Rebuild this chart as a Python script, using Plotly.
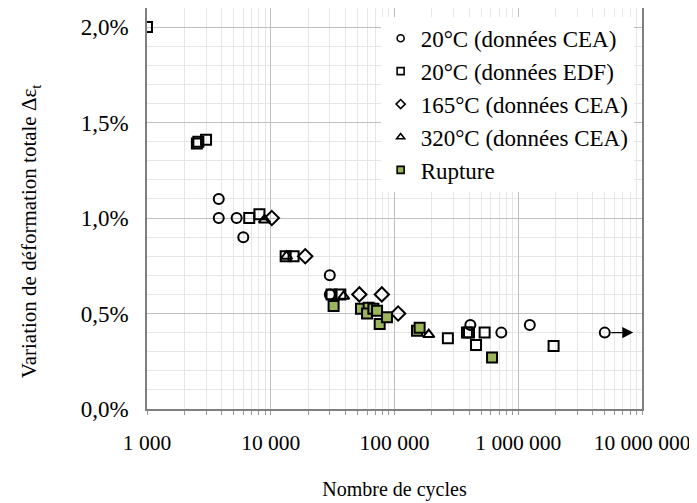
import math
import plotly.graph_objects as go

# ---- data (Nombre de cycles, variation de déformation totale en %) ----
cea20_n = [3800, 3800, 5300, 6000, 30000, 30000, 410000, 730000, 1240000, 5000000]
cea20_e = [1.10, 1.00, 1.00, 0.90, 0.70, 0.60, 0.44, 0.40, 0.44, 0.40]

edf20_n = [1000, 2530, 2600, 3000, 6700, 8100, 13200, 15300, 31000, 36500,
           270000, 385000, 400000, 456000, 535000, 1930000]
edf20_e = [2.00, 1.39, 1.40, 1.41, 1.00, 1.02, 0.80, 0.80, 0.60, 0.60,
           0.37, 0.40, 0.40, 0.335, 0.40, 0.33]

cea165_n = [10200, 19000, 52000, 79000, 107000]
cea165_e = [1.00, 0.80, 0.60, 0.60, 0.50]

cea320_n = [8900, 13400, 38800, 189000]
cea320_e = [0.99, 0.80, 0.59, 0.39]

rupt_n = [32200, 53600, 61800, 60000, 67500, 72300, 75900, 86900, 152000, 159600, 614000]
rupt_e = [0.54, 0.525, 0.53, 0.50, 0.525, 0.515, 0.445, 0.48, 0.41, 0.425, 0.27]

# run-out (test not broken): arrow from the last 20°C CEA point
runout_start = (5000000, 0.40)
runout_end = (8500000, 0.40)

x_ticks = [1000, 10000, 100000, 1000000, 10000000]
x_labels = ["1 000", "10 000", "100 000", "1 000 000", "10 000 000"]

names = ["20°C (données CEA)", "20°C (données EDF)", "165°C (données CEA)",
         "320°C (données CEA)", "Rupture"]

SERIF = "Liberation Serif, Times New Roman, serif"
GREEN = "#9bb55a"

series = [
    (cea20_n, cea20_e, names[0], "circle-open", 10, "black"),
    (edf20_n, edf20_e, names[1], "square-open", 10, "black"),
    (cea165_n, cea165_e, names[2], "diamond-open", 11, "black"),
    (cea320_n, cea320_e, names[3], "triangle-up-open", 10, "black"),
    (rupt_n, rupt_e, names[4], "square", 10, GREEN),
]

fig = go.Figure()

for xs, ys, name, sym, size, col in series:
    fig.add_trace(go.Scatter(
        x=xs, y=ys, mode="markers", name=name, legendgroup=name, showlegend=False,
        marker=dict(symbol=sym, size=size, color=col,
                    line=dict(width=2, color="black")),
    ))

# legend-only entries with the small symbols of the reference legend
for xs, ys, name, sym, size, col in series:
    fig.add_trace(go.Scatter(
        x=[None], y=[None], mode="markers", name=name, legendgroup=name,
        showlegend=True,
        marker=dict(symbol=sym, size=7, color=col,
                    line=dict(width=1.6, color="black")),
    ))

fig.add_annotation(
    x=math.log10(runout_end[0]), y=runout_end[1],
    ax=math.log10(runout_start[0]) + 0.04, ay=runout_start[1],
    xref="x", yref="y", axref="x", ayref="y",
    showarrow=True, arrowhead=2, arrowsize=1.7, arrowwidth=1.3,
    arrowcolor="black", text="",
)

# y-axis title (placed like the reference, slightly below the plot centre)
fig.add_annotation(
    text="Variation de déformation totale Δε<sub>t</sub>",
    xref="paper", yref="paper", x=-0.236, y=0.444,
    xanchor="center", yanchor="middle", textangle=-90, showarrow=False,
    font=dict(family=SERIF, size=21, color="black"),
)

fig.update_layout(
    width=689, height=495,
    margin=dict(l=139, r=55, t=0, b=94),
    paper_bgcolor="white", plot_bgcolor="white",
    separators=", ",
    font=dict(family=SERIF, size=23, color="black"),
    showlegend=True,
    legend=dict(
        x=0.472, y=0.978, xanchor="left", yanchor="top",
        bgcolor="white", borderwidth=0,
        font=dict(family=SERIF, size=23, color="black"),
        traceorder="grouped", tracegroupgap=0,
        itemwidth=30, itemsizing="trace",
    ),
    xaxis=dict(
        type="log", range=[3, 7], automargin=False,
        tickvals=x_ticks, ticktext=x_labels,
        tickfont=dict(family=SERIF, size=21.5),
        showgrid=True, gridcolor="#bfbfbf", gridwidth=1,
        minor=dict(dtick="D1", showgrid=True, gridcolor="#e6e6e6", gridwidth=1,
                   ticks="outside", ticklen=4, tickcolor="#999999"),
        ticks="", ticklabelstandoff=13,
        showline=True, linecolor="#7f7f7f", linewidth=1.5, mirror=True,
        zeroline=False,
        title=dict(text="Nombre de cycles", standoff=28,
                   font=dict(family=SERIF, size=20)),
    ),
    yaxis=dict(
        range=[0, 2.1], tick0=0, dtick=0.5, automargin=False,
        tickformat=".1f", ticksuffix="%",
        tickfont=dict(family=SERIF, size=23),
        showgrid=True, gridcolor="#bfbfbf", gridwidth=1,
        minor=dict(dtick=0.1, showgrid=True, gridcolor="#e6e6e6", gridwidth=1),
        ticks="", ticklabelstandoff=12,
        showline=True, linecolor="#7f7f7f", linewidth=1.5, mirror=True,
        zeroline=False,
    ),
)

fig.write_html("out.html")
